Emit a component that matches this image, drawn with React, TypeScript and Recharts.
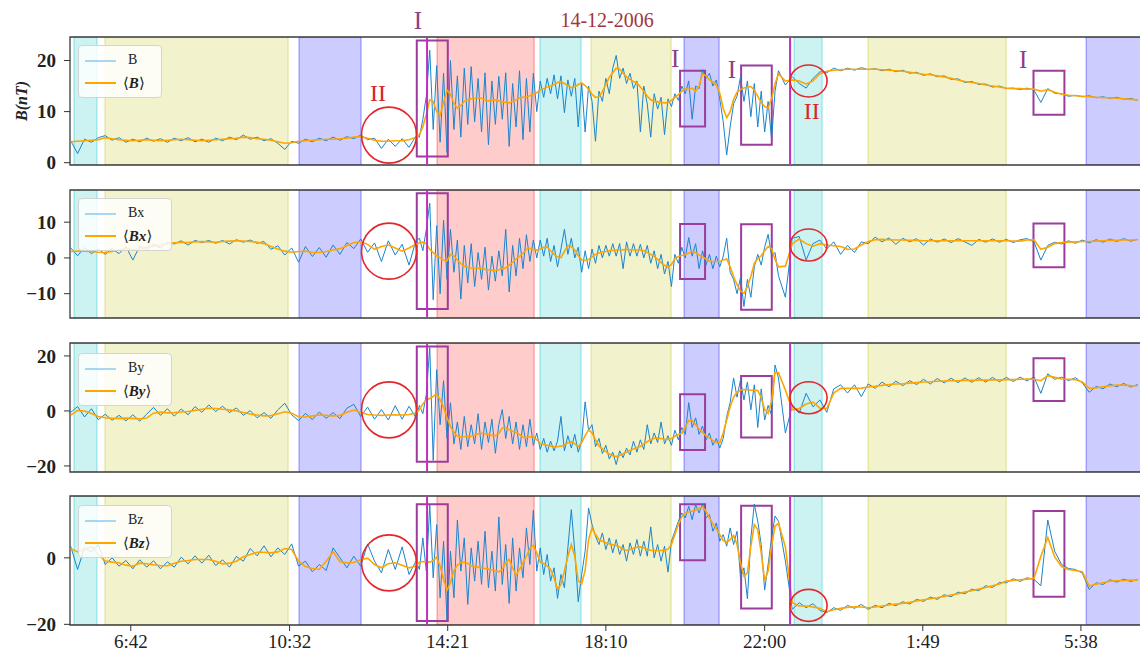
import React from 'react';
import { LineChart, Line, XAxis, YAxis, ReferenceArea, ReferenceLine, ReferenceDot, Legend } from 'recharts';

const SERIF = "'Liberation Serif', 'DejaVu Serif', serif";

// time in minutes from 00:00 of 14-12-2006
const times = [
  315,325,335,345,355,365,375,385,395,405,415,425,435,445,455,465,475,485,495,505,
  515,525,535,545,555,565,575,585,595,605,615,625,635,645,655,665,675,685,695,705,
  715,725,735,745,755,765,775,785,795,805,815,
  820,825,830,835,840,845,850,855,860,865,870,875,880,885,890,895,900,905,910,915,
  920,925,930,935,940,945,950,955,960,965,970,975,980,985,990,995,1000,1005,1010,1015,
  1020,1025,1030,1035,1040,1045,1050,1055,1060,1065,1070,1075,1080,1085,1090,1095,1100,1105,1110,1115,
  1120,1125,1130,1135,1140,1145,1150,1155,1160,1165,1170,1175,1180,1185,1190,1195,1200,1205,1210,1215,
  1220,1225,1230,1235,1240,1245,1250,1255,1260,1265,1270,1275,1280,1285,1290,1295,1300,1305,1310,1315,
  1320,1325,1330,1335,1340,
  1350,1360,1370,1380,1390,1400,1410,1420,1430,1440,1450,1460,1470,1480,1490,1500,1510,1520,1530,1540,
  1550,1560,1570,1580,1590,1600,1610,1620,1630,1640,1650,1660,1670,1680,1690,1700,1710,1720,1730,1740,
  1750,1760,1770,1780,1790,1800,1810,1820,1830,1840,1850,1860
];

const bRaw = [
  4.3,1.8,4.6,4.0,4.9,5.3,4.4,4.9,4.0,4.6, 4.1,4.8,4.2,4.7,4.0,4.8,4.3,4.9,4.1,4.6,
  4.0,4.8,4.3,5.0,4.5,5.4,4.6,5.0,4.3,4.7, 3.8,2.6,4.2,3.8,4.6,4.1,4.8,4.3,5.0,4.4,
  5.1,4.7,5.4,4.5,4.8,2.8,4.6,3.2,4.7,3.0, 5.2,
  5.0,8.5,13.0,22.0,6.5,19.0,4.0,17.5,2.0,20.0, 6.5,17.0,5.0,18.5,7.5,18.8,8.0,16.5,6.0,17.6,
  3.5,16.0,7.5,16.9,8.5,17.6,3.2,15.5,7.0,18.0, 4.5,16.5,6.0,17.5,10.0,16.0,12.8,16.5,13.5,17.2,
  12.5,17.0,9.8,16.2,13.0,16.5,7.0,15.5,6.0,15.0, 12.0,4.2,14.0,12.0,16.5,13.5,18.5,21.0,16.5,18.5,
  15.5,17.5,14.5,16.0,6.0,15.0,11.5,5.0,13.5,10.5, 12.8,5.5,12.5,11.0,13.5,12.2,15.0,13.5,16.0,8.5,
  15.0,14.5,18.2,16.5,17.5,15.0,16.2,12.5,8.0,1.5, 7.0,11.5,13.0,16.8,12.0,16.0,9.0,15.5,7.0,14.0,
  6.0,12.0,4.5,14.0,18.0,
  15.2,16.8,15.5,14.6,16.5,17.8,17.6,18.5,18.0,18.5, 18.1,18.6,18.2,18.4,18.0,18.3,17.8,18.1,17.5,17.7,
  17.1,17.4,16.8,17.0,16.3,16.4,15.7,15.9,15.3,15.4, 14.8,15.0,14.5,14.6,14.3,14.6,14.2,11.8,14.5,13.6,
  13.5,13.0,13.2,12.9,13.1,12.7,12.9,12.6,12.8,12.4,12.6,12.2
];
const bAvg = [
  4.1,4.2,4.3,4.4,4.5,4.9,4.7,4.5,4.4,4.3, 4.4,4.5,4.4,4.3,4.4,4.5,4.6,4.5,4.4,4.3,
  4.4,4.5,4.6,4.7,4.8,5.0,4.9,4.7,4.6,4.4, 4.1,3.8,3.9,4.2,4.3,4.4,4.5,4.6,4.6,4.7,
  4.8,5.0,5.1,4.8,4.4,4.2,4.2,4.3,4.3,4.5, 5.0,
  5.5,7.0,9.5,12.3,12.0,10.0,9.3,11.8,14.2,13.4, 11.6,10.7,11.2,12.0,12.3,12.5,12.6,12.7,12.6,12.3,
  12.1,12.2,12.3,12.1,11.9,11.8,11.7,12.0,12.3,12.7, 12.8,12.9,13.1,13.4,13.7,14.2,14.5,14.8,15.0,15.3,
  15.7,15.9,15.5,15.1,14.7,14.8,15.3,15.6,15.1,14.4, 13.4,12.8,12.9,13.9,15.3,16.7,17.6,18.5,18.3,17.5,
  16.8,16.3,15.9,15.6,14.8,14.0,13.0,12.3,12.0,11.9, 11.8,11.7,11.8,12.2,12.8,13.3,14.0,14.5,14.3,14.6,
  14.0,15.0,17.4,17.0,16.2,15.8,15.2,13.6,10.6,8.8, 10.0,12.4,13.8,14.3,14.6,14.8,14.9,14.2,13.0,11.8,
  11.0,10.7,12.5,15.4,17.4,
  16.0,16.2,16.0,15.4,16.0,17.4,17.9,18.1,18.2,18.3, 18.3,18.3,18.3,18.3,18.2,18.1,18.0,17.9,17.7,17.5,
  17.3,17.2,17.0,16.8,16.5,16.2,15.9,15.7,15.5,15.2, 15.0,14.8,14.6,14.5,14.5,14.4,14.4,14.0,14.3,13.8,
  13.4,13.2,13.1,13.0,12.9,12.8,12.7,12.7,12.6,12.5,12.4,12.3
];

const bxRaw = [
  2.8,0.6,2.9,1.2,2.5,1.0,2.6,1.2,3.2,-0.6, 3.3,2.2,3.9,2.8,4.4,3.9,4.8,3.6,4.9,4.3,
  4.9,4.1,4.9,3.9,5.1,4.4,5.0,4.1,4.6,2.4, 3.4,0.8,2.8,-1.2,3.2,0.4,2.9,0.2,3.6,1.0,
  4.3,2.6,5.3,1.6,4.2,-1.0,4.8,0.8,3.8,-2.0, 4.9,
  5.5,2.0,8.0,15.3,-11.7,9.0,-10.0,10.6,-6.0,8.0, -4.0,5.0,-11.5,3.5,-7.0,4.0,-8.0,1.5,-6.0,3.0,
  -9.0,0.5,-6.5,2.0,-5.0,8.0,-9.5,3.5,-5.0,5.5, -3.0,6.5,-1.0,5.0,0.0,5.0,0.5,5.5,-1.0,3.5,
  -2.5,2.5,8.0,1.0,5.5,0.0,3.0,-4.0,2.0,-3.0, 2.5,-1.5,3.5,0.0,3.5,0.5,4.0,0.5,4.0,-3.0,
  4.5,0.5,4.0,0.5,3.8,0.0,3.5,-1.5,2.0,-3.0, 1.0,-4.5,-1.0,-8.0,1.0,-1.5,3.0,0.0,5.7,0.5,
  4.0,-3.0,2.0,-2.0,1.0,-3.0,0.5,-2.5,0.5,5.5, -4.0,-6.0,-10.0,-5.5,-13.6,-6.0,-11.0,-2.5,1.0,-2.0,
  3.0,6.6,0.5,1.5,-5.0,
  -11.0,5.5,6.0,-0.6,4.0,5.0,2.5,4.5,1.0,3.5, 1.5,4.5,4.0,5.8,4.5,5.6,3.8,5.5,4.5,5.4,
  3.6,5.3,4.4,5.3,4.3,5.4,4.5,3.5,5.2,4.4, 5.3,4.4,5.2,4.3,5.1,5.4,4.5,-0.6,3.5,4.4,
  3.9,4.8,4.1,5.0,4.2,5.1,4.4,5.3,4.6,5.4,4.7,5.2
];
const bxAvg = [
  1.8,1.9,1.9,1.8,1.6,1.5,1.8,2.3,2.6,2.3, 2.6,3.0,3.3,3.6,4.0,4.2,4.4,4.3,4.5,4.6,
  4.5,4.4,4.6,4.7,4.8,4.7,4.6,4.4,4.0,3.2, 2.5,1.9,1.6,1.8,1.9,1.6,1.5,1.8,2.2,2.6,
  3.4,4.3,4.5,3.8,2.4,3.2,3.6,2.8,1.9,2.8, 3.8,
  4.2,4.4,4.0,2.4,1.5,0.6,0.0,-0.6,-0.8,1.0, 0.6,-0.6,-1.6,-2.3,-2.6,-2.8,-2.9,-2.9,-3.0,-3.2,
  -3.3,-3.4,-3.5,-3.3,-3.0,-2.8,-2.0,-1.2,-0.3,0.4, 1.3,2.4,2.7,2.4,2.2,2.5,3.0,3.1,2.0,1.0,
  0.3,0.1,1.8,3.5,3.2,2.2,0.6,-0.5,-0.7,-0.4, 0.3,1.0,1.4,1.7,1.8,2.0,2.1,2.2,2.2,2.3,
  2.4,2.3,2.2,2.2,2.2,2.0,1.5,1.0,0.4,-0.4, -1.3,-2.1,-2.6,-1.8,-0.2,0.4,0.7,0.9,1.4,1.8,
  1.5,0.8,0.3,-0.3,-0.9,-1.0,-1.0,-1.0,-0.6,-0.3, -2.5,-5.2,-7.5,-9.2,-9.9,-8.0,-5.2,-1.5,-0.2,0.6,
  2.0,3.2,2.6,-0.4,-2.5,
  -2.3,4.0,5.3,4.0,3.3,4.0,3.6,3.4,3.2,2.4, 2.5,3.6,4.6,5.1,5.2,5.1,5.0,5.0,4.9,4.9,
  4.8,4.8,4.8,4.8,4.8,4.8,4.8,4.8,4.8,4.8, 4.8,4.8,4.8,4.7,4.7,5.0,5.1,2.4,3.0,4.0,
  4.3,4.4,4.5,4.6,4.6,4.7,4.8,4.9,4.9,5.0,5.0,5.1
];

const byRaw = [
  -0.5,1.6,-2.2,0.8,-3.2,-1.2,-3.4,-1.6,-3.6,-1.4, -3.7,-1.2,1.3,-1.6,0.8,-1.9,0.7,-1.4,1.6,-0.5,
  2.2,-0.2,1.7,-0.6,1.1,-1.6,0.1,-2.5,-0.6,-2.7, 0.4,2.8,-1.4,-3.5,-0.9,-3.1,-0.4,-2.7,-0.6,-2.8,
  1.0,2.4,-2.0,1.4,-3.0,0.5,-3.3,1.9,-3.0,1.7, -2.5,
  2.0,-1.0,6.0,23.0,-18.0,15.0,-5.0,11.0,-10.0,3.0, -12.0,-4.0,-14.0,-2.0,-13.0,-5.0,-12.0,-1.0,-14.0,-4.0,
  -11.5,-3.0,-15.4,-5.0,0.5,-10.0,-2.0,-12.0,-4.0,-14.0, -5.0,-13.0,-3.0,-12.5,-8.0,-14.0,-10.0,-15.0,-11.0,-14.5,
  -11.0,-2.0,-14.5,-9.0,-13.5,-8.5,-15.0,-11.0,3.3,-7.0, -5.0,-13.0,-10.0,-15.5,-12.5,-17.5,-15.0,-19.5,-14.5,-17.0,
  -13.5,-16.0,-11.0,-15.0,-10.5,-14.0,-5.0,-12.0,-8.0,-11.5, -4.0,-12.0,-9.0,-12.5,-7.0,-10.5,-6.0,-8.5,3.0,-6.0,
  -2.5,-8.5,-5.5,-10.5,-8.0,-12.5,-10.0,-13.5,-10.0,-2.0, 3.0,12.0,5.0,11.3,4.0,10.5,0.4,9.5,-6.0,8.0,
  -3.3,2.0,-1.5,16.7,12.0,
  -8.0,2.0,-0.8,6.4,1.5,4.0,-0.5,8.0,9.5,6.5, 9.5,5.2,9.8,8.2,10.5,8.8,10.8,9.2,11.0,9.6,
  11.5,9.8,11.8,10.2,11.9,10.3,12.0,10.4,12.1,10.5, 12.2,10.6,12.2,10.7,12.3,10.9,12.4,6.4,13.5,11.5,
  12.3,11.0,12.1,10.2,6.8,8.9,8.1,9.8,8.8,10.0,8.7,9.6
];
const byAvg = [
  -1.5,0.2,0.0,-0.9,-2.0,-2.5,-2.7,-2.7,-2.6,-2.7, -2.9,-2.6,-0.8,-0.4,-0.7,-0.6,-0.4,-0.2,0.2,0.6,
  1.0,0.9,0.6,0.4,0.0,-0.6,-1.1,-1.5,-1.8,-1.7, -1.0,-0.3,-0.8,-2.1,-2.2,-1.8,-1.5,-1.6,-1.8,-1.6,
  -0.5,0.3,-0.6,-1.3,-1.5,-1.6,-1.5,-1.4,-1.5,-1.3, -0.8,
  0.5,2.5,4.0,4.5,5.3,6.2,4.0,1.4,-2.5,-5.7, -7.8,-9.1,-9.5,-9.4,-9.2,-9.2,-8.8,-8.3,-8.1,-8.3,
  -8.6,-8.9,-9.0,-8.3,-6.2,-6.0,-6.8,-7.4,-7.8,-8.5, -9.5,-9.6,-9.4,-9.3,-10.5,-11.8,-12.2,-12.5,-12.8,-13.0,
  -13.0,-12.8,-12.4,-11.6,-11.2,-12.0,-13.0,-11.5,-9.0,-6.9, -8.0,-10.5,-12.7,-13.8,-14.8,-15.7,-16.3,-16.6,-16.2,-15.6,
  -15.0,-14.4,-13.8,-13.3,-12.9,-12.0,-11.2,-10.5,-9.9,-9.8, -10.0,-10.3,-10.4,-10.0,-9.2,-8.6,-8.2,-5.8,-3.5,-3.5,
  -5.0,-6.5,-7.8,-9.0,-9.8,-10.8,-11.5,-11.6,-8.0,-3.3, 1.5,5.0,6.8,7.5,7.8,7.7,7.5,7.5,7.4,4.8,
  0.5,-0.9,3.5,14.0,13.9,
  7.6,0.4,0.9,2.5,3.2,1.0,0.9,6.5,8.2,8.2, 8.2,8.3,8.7,9.0,9.3,9.6,9.8,9.9,10.1,10.3,
  10.5,10.6,10.8,10.9,11.0,11.0,11.1,11.1,11.2,11.2, 11.3,11.3,11.4,11.4,11.5,11.6,11.5,11.0,12.8,12.2,
  11.6,11.5,11.4,10.5,8.3,8.4,8.8,9.1,9.4,9.4,9.2,9.1
];

const bzRaw = [
  3.5,-3.5,3.0,1.8,4.0,-2.0,0.0,-2.5,-0.8,-3.3, -0.6,-2.8,-0.9,-3.3,-1.2,-2.8,0.2,-1.8,0.6,-1.6,
  0.8,-2.3,-0.6,-2.8,0.4,-1.0,2.8,0.6,3.6,0.3, 3.0,1.0,4.2,-2.5,-1.0,-4.2,-2.0,-3.8,3.0,0.0,
  -3.0,0.5,-2.5,4.2,-1.0,-4.5,2.5,-3.5,3.3,-5.0, -1.0,
  -3.5,6.0,-4.0,15.9,-6.0,10.0,-12.0,5.0,-18.8,2.0, -12.0,11.4,-4.0,6.0,-14.0,3.0,-7.0,5.0,-8.0,8.0,
  -9.0,2.0,-10.0,12.3,-8.0,4.0,-13.7,6.0,-10.0,3.0, -6.0,9.0,-2.0,14.3,-4.0,3.0,-5.0,1.0,-7.0,-3.0,
  -12.2,-5.0,-9.0,3.0,14.5,2.0,-13.2,-5.0,2.0,15.0, 10.0,6.5,4.0,7.5,2.5,6.0,1.5,5.5,1.0,4.0,
  -1.0,4.5,1.0,5.5,0.5,5.0,0.5,9.3,0.0,4.0, -1.0,3.5,-4.3,5.0,8.0,11.0,13.5,12.0,15.5,11.5,
  16.0,13.5,16.2,12.0,13.0,8.0,10.5,5.0,7.0,3.5, 9.0,4.0,8.0,-6.0,-3.0,-12.3,6.0,16.2,11.0,4.0,
  -9.7,-2.0,6.0,12.6,11.0,
  -1.0,-15.5,-13.5,-15.0,-13.8,-15.8,-16.5,-15.0,-15.8,-14.3, -15.2,-14.0,-15.5,-14.3,-15.0,-13.7,-14.4,-13.2,-13.9,-12.5,
  -13.1,-11.8,-12.5,-11.1,-11.7,-10.3,-10.8,-9.4,-9.9,-8.4, -8.9,-7.4,-7.5,-6.3,-7.1,-6.0,-6.5,-8.4,11.4,2.0,
  -2.0,-3.2,-3.5,-4.6,-9.5,-7.5,-8.0,-6.6,-7.3,-6.4,-7.1,-6.5
];
const bzAvg = [
  2.8,1.8,2.6,3.3,1.0,-1.0,-1.3,-1.5,-2.2,-2.5, -1.6,-1.8,-2.1,-2.4,-2.4,-1.6,-1.0,-0.8,-0.5,-0.5,
  -0.5,-1.0,-1.8,-1.6,-1.0,0.3,1.0,1.7,1.7,1.5, 1.8,2.8,2.5,-1.0,-2.6,-3.2,-3.5,-1.0,1.8,-1.2,
  -1.5,-1.4,-0.6,-0.1,-2.0,-3.0,-1.8,-1.5,-2.2,-3.0, -2.5,
  -1.3,-1.1,-1.3,-1.3,-0.8,0.2,-2.5,-6.5,-9.7,-7.5, -3.8,-2.2,-1.5,-1.3,-1.6,-2.4,-2.6,-2.8,-3.0,-3.2,
  -3.4,-3.6,-3.9,-4.2,-3.5,-1.5,-0.4,-3.0,-5.2,-3.5, -1.5,0.5,2.8,3.8,1.5,-1.3,-1.8,-2.4,-3.5,-6.0,
  -9.5,-8.0,-4.0,0.5,4.0,0.5,-7.0,-7.8,-3.8,5.5, 9.0,7.0,5.5,5.0,4.5,4.2,3.9,3.7,3.3,2.6,
  2.2,2.5,2.9,3.2,3.3,3.0,2.6,2.3,2.2,2.2, 2.2,2.2,2.6,4.0,7.0,10.0,12.3,13.4,13.8,14.1,
  14.4,14.9,15.3,14.0,12.0,10.2,8.8,7.0,5.2,4.7, 5.5,6.7,4.0,-1.5,-5.5,-4.5,3.5,10.0,8.5,1.5,
  -6.8,-4.0,3.5,9.5,10.4,
  3.3,-13.5,-14.5,-14.5,-14.8,-15.2,-16.2,-15.6,-15.2,-14.9, -14.7,-14.8,-15.0,-14.8,-14.5,-14.2,-13.9,-13.7,-13.4,-13.0,
  -12.6,-12.3,-12.0,-11.6,-11.2,-10.8,-10.3,-9.9,-9.4,-8.9, -8.4,-7.9,-7.0,-6.8,-6.6,-6.4,-6.2,0.5,6.1,0.3,
  -2.6,-3.5,-3.8,-4.2,-8.5,-7.9,-7.5,-7.0,-6.9,-6.8,-6.7,-6.7
];

// x-axis ticks
const tickTimes = [402, 632, 861, 1090, 1320, 1549, 1778];
const tickLabels = ['6:42', '10:32', '14:21', '18:10', '22:00', '1:49', '5:38'];

// shaded intervals
const spanStart = [319.8, 364.7, 645.7, 845.6, 994.7, 1068.6, 1203.3, 1362.6, 1469.8, 1785.6];
const spanEnd = [353.1, 629.8, 735.5, 986.1, 1054.1, 1184.5, 1254.0, 1403.2, 1669.7, 1866];
const spanColor = ['#00bfbf', '#bfbf00', '#0000ff', '#ff0000', '#00bfbf', '#bfbf00', '#0000ff', '#00bfbf', '#bfbf00', '#0000ff'];

// vertical event lines
const eventLines = [831.1, 1356.8];

// type I boxes
const boxStart = [816.2, 1197.5, 1285.9, 1709.3];
const boxEnd = [861.1, 1233.7, 1330.3, 1754.1];
const p1BoxLow = [1.2, 7.1, 3.5, 9.4];
const p1BoxHigh = [23.9, 18.0, 19.0, 18.0];
const p2BoxLow = [-14.3, -5.9, -14.5, -2.6];
const p2BoxHigh = [18.1, 9.5, 9.4, 9.6];
const p3BoxLow = [-18.5, -14.2, -9.7, 3.6];
const p3BoxHigh = [23.4, 6.1, 12.7, 19.2];
const p4BoxLow = [-19.0, -0.7, -15.2, -11.7];
const p4BoxHigh = [16.1, 16.1, 15.7, 14.1];

// type II circles
const circleTimes = [776, 1383.6];
const p1Circle = [5.4, 16.0];
const p2Circle = [1.9, 3.6];
const p3Circle = [0.4, 4.8];
const p4Circle = [-1.5, -14.3];

// labels on top panel
const labelTexts = ['I', '14-12-2006', 'II', 'I', 'I', 'II', 'I'];
const labelTimes = [818, 1091.8, 760.1, 1190.3, 1272.4, 1388.3, 1694.3];
const labelValues = [27.8, 28.0, 13.7, 20.3, 18.2, 10.1, 20.1];
const labelColors = ['#8a3d8a', '#a2353b', '#d8262a', '#8a3d8a', '#8a3d8a', '#d8262a', '#8a3d8a'];
const labelSizes = [25, 20, 24, 25, 25, 24, 25];

const X_DOMAIN: [number, number] = [314, 1865];
const CHART_W = 1141;

const fmtY = (v: number) => (v < 0 ? '\u2212' + Math.abs(v) : String(v));

const circleRadii = [[27.5, 28], [18.5, 16]];

function LegendBox({ name, avgName, width }: { name: string; avgName: string; width: number }) {
  return (
    <div style={{ position: 'relative', boxSizing: 'border-box', width, height: 53, background: 'rgba(255,255,255,0.82)', border: '1px solid #d4d4d4', borderRadius: 4, fontFamily: SERIF, fontSize: 14, color: '#222' }}>
      <svg width={width} height={53} style={{ position: 'absolute', left: 0, top: 0 }}>
        <line x1={6} x2={37} y1={15} y2={15} stroke="#8cc8ef" strokeWidth={1.5} />
        <line x1={6} x2={37} y1={37} y2={37} stroke="#ffa500" strokeWidth={2} />
      </svg>
      <div style={{ position: 'absolute', left: 49, top: 5, lineHeight: '18px' }}>{name}</div>
      <div style={{ position: 'absolute', left: 44, top: 27, lineHeight: '20px', fontSize: 15 }}>
        {'\u27E8'}<b><i>{avgName}</i></b>{'\u27E9'}
      </div>
    </div>
  );
}

type PanelProps = {
  top: number; height: number; mTop: number; mBottom: number;
  raw: number[]; avg: number[]; name: string; avgName: string;
  yDomain: [number, number]; yTicks: number[];
  boxLow: number[]; boxHigh: number[]; circleVals: number[];
  legendTop: number; legendWidth: number; showX: boolean; yLabel?: boolean; labels?: boolean;
};

function Panel(p: PanelProps) {
  const data = times.map((t, i) => ({ t, raw: p.raw[i], avg: p.avg[i] }));
  return (
    <div style={{ position: 'absolute', left: 0, top: p.top }}>
      <LineChart width={CHART_W} height={p.height} data={data} margin={{ top: p.mTop, right: 0, bottom: p.mBottom, left: 0 }}>
        <XAxis dataKey="t" type="number" domain={X_DOMAIN} allowDataOverflow ticks={tickTimes} interval={0}
          tickFormatter={(v: number) => tickLabels[tickTimes.indexOf(v)] ?? ''}
          hide={!p.showX} height={29} axisLine={false} tickLine={{ stroke: '#333' }} tickSize={6} tickMargin={4}
          tick={{ fontSize: 19, fontFamily: SERIF, fill: '#222' }} />
        <YAxis type="number" domain={p.yDomain} allowDataOverflow ticks={p.yTicks} interval={0} width={70}
          axisLine={false} tickLine={{ stroke: '#333' }} tickSize={6} tickMargin={8} tickFormatter={fmtY}
          tick={{ fontSize: 19, fontFamily: SERIF, fill: '#222', fontWeight: 'bold' }}
          label={p.yLabel ? ((props: any) => {
            const vb = props.viewBox || {};
            const cy = (vb.y ?? 37) + (vb.height ?? 128) / 2;
            return (
              <text x={21} y={cy} transform={`rotate(-90, 21, ${cy})`} textAnchor="middle" dominantBaseline="central"
                fontFamily={SERIF} fontSize={16} fontStyle="italic" fontWeight="bold" fill="#222">B(nT)</text>
            );
          }) : undefined} />
        {spanStart.map((s, i) => (
          <ReferenceArea key={'s' + i} x1={s} x2={spanEnd[i]} fill={spanColor[i]} fillOpacity={0.2}
            stroke={spanColor[i]} strokeOpacity={0.35} strokeWidth={1.2} ifOverflow="hidden" />
        ))}
        <Line dataKey="raw" type="linear" stroke="#1a84cc" strokeWidth={1} dot={false} isAnimationActive={false} />
        <Line dataKey="avg" type="linear" stroke="#ffa500" strokeWidth={1.6} dot={false} isAnimationActive={false} />
        {eventLines.map((x, i) => (
          <ReferenceLine key={'e' + i} x={x} stroke="#bf2fbf" strokeWidth={2} />
        ))}
        {boxStart.map((s, i) => (
          <ReferenceArea key={'b' + i} x1={s} x2={boxEnd[i]} y1={p.boxLow[i]} y2={p.boxHigh[i]}
            fill="none" fillOpacity={0} stroke="#9c3c9c" strokeWidth={2} ifOverflow="visible" />
        ))}
        {circleTimes.map((t, i) => (
          <ReferenceDot key={'c' + i} x={t} y={p.circleVals[i]} r={circleRadii[i][0]} ifOverflow="visible"
            shape={(sp: any) => (
              <ellipse cx={sp.cx} cy={sp.cy} rx={circleRadii[i][0]} ry={circleRadii[i][1]} fill="none" stroke="#e5262b" strokeWidth={1.6} />
            )} />
        ))}
        <ReferenceArea x1={X_DOMAIN[0]} x2={X_DOMAIN[1]} y1={p.yDomain[0]} y2={p.yDomain[1]} fill="none" fillOpacity={0}
          stroke="#3a3a3a" strokeWidth={1.3} ifOverflow="visible" />
        {p.labels && labelTexts.map((txt, i) => (
          <ReferenceDot key={'l' + i} x={labelTimes[i]} y={labelValues[i]} r={1} ifOverflow="visible"
            shape={(sp: any) => (
              <text x={sp.cx} y={sp.cy} textAnchor="middle" dominantBaseline="central" fontFamily={SERIF}
                fontSize={labelSizes[i]} fill={labelColors[i]}>{txt}</text>
            )} />
        ))}
        <Legend layout="vertical" align="center" verticalAlign="middle"
          wrapperStyle={{ left: 78, top: p.legendTop, width: p.legendWidth, height: 53 }}
          content={() => <LegendBox name={p.name} avgName={p.avgName} width={p.legendWidth} />} />
      </LineChart>
    </div>
  );
}

export default function App() {
  return (
    <div style={{ position: 'absolute', left: 0, top: 0, width: 1140, height: 654, overflow: 'hidden', background: '#fff' }}>
      <Panel top={0} height={180} mTop={37} mBottom={15} raw={bRaw} avg={bAvg} name="B" avgName="B"
        yDomain={[-0.45, 24.6]} yTicks={[0, 10, 20]} boxLow={p1BoxLow} boxHigh={p1BoxHigh} circleVals={p1Circle}
        legendTop={45} legendWidth={84} showX={false} yLabel labels />
      <Panel top={180} height={145} mTop={10} mBottom={7} raw={bxRaw} avg={bxAvg} name="Bx" avgName="Bx"
        yDomain={[-16.8, 19]} yTicks={[-10, 0, 10]} boxLow={p2BoxLow} boxHigh={p2BoxHigh} circleVals={p2Circle}
        legendTop={18} legendWidth={94} showX={false} />
      <Panel top={330} height={150} mTop={13} mBottom={8} raw={byRaw} avg={byAvg} name="By" avgName="By"
        yDomain={[-22.2, 24.7]} yTicks={[-20, 0, 20]} boxLow={p3BoxLow} boxHigh={p3BoxHigh} circleVals={p3Circle}
        legendTop={23} legendWidth={94} showX={false} />
      <Panel top={480} height={174} mTop={16} mBottom={0} raw={bzRaw} avg={bzAvg} name="Bz" avgName="Bz"
        yDomain={[-20.2, 18.6]} yTicks={[-20, 0]} boxLow={p4BoxLow} boxHigh={p4BoxHigh} circleVals={p4Circle}
        legendTop={25} legendWidth={94} showX />
    </div>
  );
}
